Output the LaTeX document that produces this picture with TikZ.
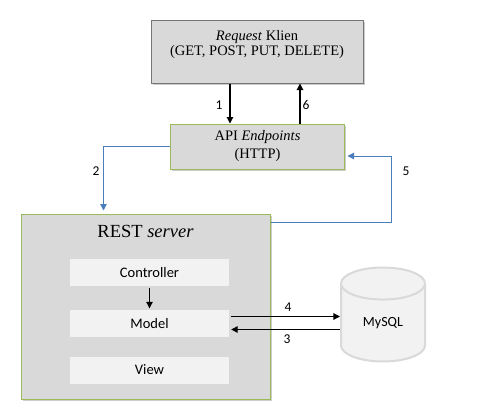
\documentclass[tikz,border=0pt]{standalone}
\usepackage{fontspec}
\setmainfont{Liberation Serif}
\setsansfont{Carlito}
\usepackage{tikz}
\usetikzlibrary{arrows.meta, shapes.geometric, shadows, positioning, calc}
\tikzset{>={Triangle[width=6.5pt,length=6.5pt]}}
\definecolor{boxgray}{RGB}{217, 217, 217}
\definecolor{lightbox}{RGB}{242, 242, 242}
\definecolor{edgegray}{RGB}{118, 118, 118}
\definecolor{mygreen}{RGB}{155, 187, 89}
\definecolor{myblue}{RGB}{74, 126, 187}
\tikzset{
  shadowed/.style = {drop shadow = {shadow xshift = 1.5pt, shadow yshift = -1.5pt, fill = black!40, opacity = 0.5}},
  greybox/.style  = {draw = edgegray, line width = 1pt, fill = boxgray, shadowed, inner sep = 0pt},
  greenbox/.style = {draw = mygreen, line width = 1pt, fill = boxgray, shadowed, inner sep = 0pt},
  layer/.style    = {fill = lightbox, minimum width = 159, minimum height = 27, inner sep = 0pt, font = \sffamily\fontsize{14.5}{15}\selectfont},
  db/.style       = {cylinder, shape border rotate = 90, aspect = 0.8, draw = boxgray, line width = 2pt, fill = lightbox, minimum width = 84, minimum height = 94, inner sep = 0pt, font = \sffamily\fontsize{14}{15}\selectfont},
  num/.style      = {font = \sffamily\fontsize{13.5}{14}\selectfont, inner sep = 0pt},
  blackarrow/.style = {->, line width = 1.1pt},
  bluearrow/.style  = {->, line width = 1pt, myblue}
}
\begin{document}
\begin{tikzpicture}[x = 1pt, y = -1pt, font = \fontsize{14.5}{15}\selectfont]
\useasboundingbox (0,0) rectangle (477,418);
% boxes
\node[greybox, minimum width = 212, minimum height = 63] (klien) at (257, 51.5) {};
\node[align = center, inner sep = 0pt] (klientext) at (257, 45) {\textit{Request} Klien\\(GET, POST, PUT, DELETE)};
\node[greenbox, minimum width = 174, minimum height = 45, align = center] (api) at (257.5, 146.5) {API \textit{Endpoints}\\[3pt](HTTP)};
\node[greenbox, minimum width = 249, minimum height = 185] (rest) at (145.5, 306.5) {};
\node[font = \fontsize{18.5}{20}\selectfont, inner sep = 0pt] (resttitle) at (145.5, 231) {REST \textit{server}};
\node[layer] (controller) at (149.5, 272.5) {Controller};
\node[layer] (model) at (149.5, 323.5) {Model};
\node[layer] (view) at (149.5, 370) {View};
\node[db] (mysql) at (383, 323) {MySQL};
% connectors
\coordinate (a1) at (230, 0);
\coordinate (a6) at (300, 0);
\coordinate (a2) at (103.5, 0);
\coordinate (a5) at (391, 0);
\coordinate (rest5) at ([yshift = -9pt]rest.north east);
\coordinate (api5) at ([xshift = 2.5pt, yshift = -9.5pt]api.east);
\draw[blackarrow] (klien.south -| a1) -- (api.north -| a1);
\draw[blackarrow] (api.north -| a6) -- (klien.south -| a6);
\draw[bluearrow] (api.west) -| ([yshift = 3pt]rest.north -| a2);
\draw[bluearrow] (rest5) -| (a5 |- api5) -- (api5);
\draw[blackarrow] ([yshift = -1.5pt]controller.south) -- ([yshift = 1.5pt]model.north);
\draw[blackarrow] ([xshift = 2pt, yshift = 7pt]model.east) -- ([yshift = 7pt]model.east -| mysql.west);
\draw[blackarrow] ([yshift = -6pt]model.east -| mysql.west) -- ([xshift = 2pt, yshift = -6pt]model.east);
% labels
\node[num] (n1) at (219, 105) {1};
\node[num] (n6) at (306, 105) {6};
\node[num] (n2) at (96, 171) {2};
\node[num] (n5) at (406, 171) {5};
\node[num] (n4) at (288, 307) {4};
\node[num] (n3) at (287, 339) {3};
\end{tikzpicture}
\end{document}
